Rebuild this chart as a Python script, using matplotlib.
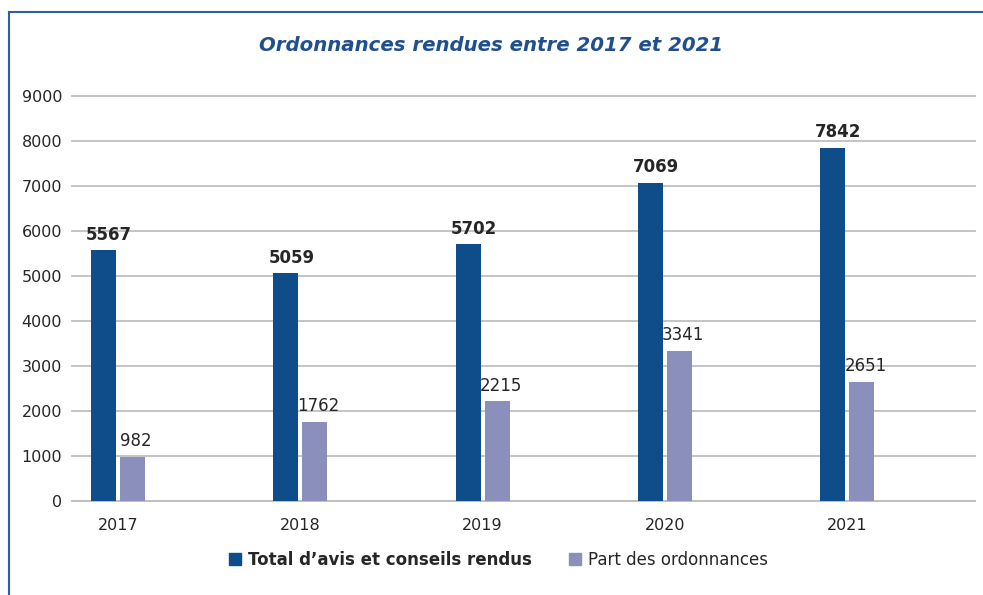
import matplotlib.pyplot as plt
from matplotlib.lines import Line2D
from matplotlib.patches import Patch
import numpy as np

# Données
annees = ['2017', '2018', '2019', '2020', '2021']
total_avis = [5567, 5059, 5702, 7069, 7842]
ordonnances = [982, 1762, 2215, 3341, 2651]

bleu = '#0f4c8a'
violet = '#8a90bb'
texte = '#262626'

plt.rcParams['font.family'] = ['DejaVu Sans']

fig = plt.figure(figsize=(9.83, 5.95), dpi=100)
ax = fig.add_axes([0.0732, 0.158, 0.9187, 0.6807])

x = np.arange(len(annees))
largeur = 0.137
decal = 0.079

b1 = ax.bar(x - decal, total_avis, largeur, color=bleu, zorder=3)
b2 = ax.bar(x + decal, ordonnances, largeur, color=violet, zorder=3)

for rect, v in zip(b1, total_avis):
    ax.text(rect.get_x() + rect.get_width() / 2 + 0.03, v + 150, str(v),
            ha='center', va='bottom', fontsize=12, fontweight='bold', color=texte)
for rect, v in zip(b2, ordonnances):
    ax.text(rect.get_x() + rect.get_width() / 2 + 0.02, v + 150, str(v),
            ha='center', va='bottom', fontsize=12, color=texte)

ax.set_xlim(-0.252, 4.7)
ax.set_ylim(0, 9000)
ax.set_yticks(range(0, 9001, 1000))
ax.set_xticks(x)
ax.set_xticklabels(annees)
ax.tick_params(axis='both', length=0, labelsize=11.5, labelcolor=texte)
ax.tick_params(axis='y', pad=7)
ax.tick_params(axis='x', pad=12)
ax.grid(axis='y', color='#bfbfbf', linewidth=1.3, zorder=0)
for ligne in ax.get_ygridlines():
    ligne.set_clip_on(False)
for s in ['top', 'right', 'left']:
    ax.spines[s].set_visible(False)
ax.spines['bottom'].set_color('#bfbfbf')
ax.spines['bottom'].set_linewidth(1.3)

fig.text(0.5, 0.923, 'Ordonnances rendues entre 2017 et 2021', ha='center', va='center',
         fontsize=14.2, style='italic', fontweight='bold', color='#1f4f8f')

# Légende
poignees = [Patch(color=bleu), Patch(color=violet)]
leg = fig.legend(poignees, ["Total d’avis et conseils rendus", 'Part des ordonnances'],
                 loc='center', bbox_to_anchor=(0.507, 0.059), ncol=2, frameon=False,
                 fontsize=12, handlelength=0.75, handleheight=0.75, handletextpad=0.4,
                 columnspacing=2.2)
for t in leg.get_texts():
    t.set_color(texte)
leg.get_texts()[0].set_fontweight('bold')

# Cadre
fig.add_artist(Line2D([0.0092, 1.0], [0.98, 0.98], color='#2e5f9e', linewidth=1.5))
fig.add_artist(Line2D([0.0092, 0.0092], [0.0, 0.98], color='#2e5f9e', linewidth=1.5))

fig.savefig('out.png', dpi=100)
